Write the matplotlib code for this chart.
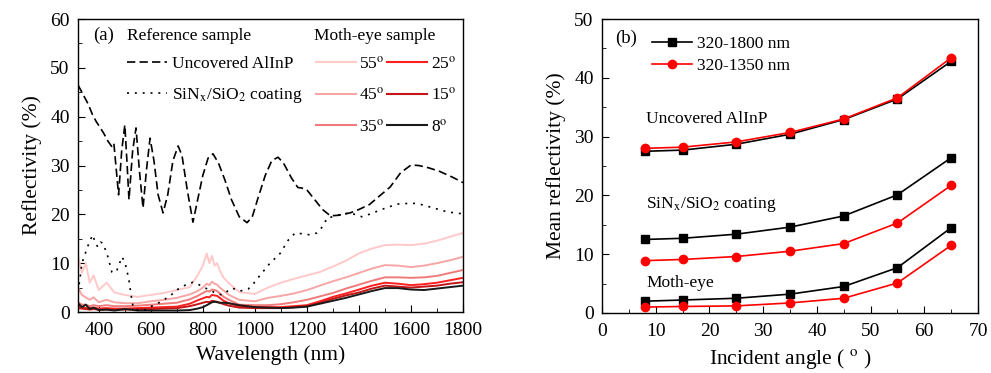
import matplotlib
matplotlib.use("Agg")
import matplotlib.pyplot as plt
from matplotlib.lines import Line2D
from matplotlib.ticker import MultipleLocator

plt.rcParams['font.family'] = ['Liberation Serif', 'DejaVu Serif']
plt.rcParams['mathtext.fontset'] = 'stix'

# ---- panel (a): reflectivity spectra ----
uncovered_wl = [320, 330, 345, 360, 375, 390, 405, 420, 435, 451, 458, 476, 488, 500, 508, 516,
                530, 543, 556, 570, 583, 597, 612, 628, 647, 665, 685, 705, 720, 740, 762, 780,
                800, 820, 839, 860, 885, 910, 940, 970, 990, 1010, 1040, 1065, 1089, 1110, 1140,
                1165, 1180, 1200, 1230, 1260, 1290, 1320, 1366, 1400, 1440, 1480, 1520, 1560,
                1600, 1630, 1670, 1710, 1760, 1800]
uncovered_r = [46.5, 45.5, 44, 42.5, 40.5, 39, 37.8, 36.5, 35, 33.8, 34.5, 24, 33, 38.3, 31, 23,
               33, 37.7, 29, 21.3, 29, 35.6, 31, 24, 20.3, 24, 31, 34, 32, 25, 18.4, 23,
               28, 31.5, 32.4, 30.5, 27, 23, 19.5, 18.3, 19.5, 23, 28, 31, 31.7, 30.5, 27.5,
               25.5, 25.4, 25, 23, 21, 19.7, 19.8, 20.3, 21, 22, 23.8, 25.6, 28.5,
               30.1, 30, 29.5, 28.8, 27.6, 26.5]

coating_wl = [320, 328, 335, 345, 355, 365, 377, 387, 397, 407, 416, 425, 435, 450, 460, 470,
              480, 489, 500, 508, 516, 524, 532, 545, 570, 590, 604, 635, 674, 705, 739, 762,
              785, 801, 828, 850, 874, 895, 912, 943, 974, 990, 1012, 1035, 1058, 1097, 1128,
              1155, 1185, 1212, 1239, 1262, 1278, 1300, 1330, 1366, 1412, 1450, 1482, 1547,
              1605, 1640, 1674, 1740, 1800]
coating_r = [4.1, 7, 10, 11.5, 13.1, 14.5, 15.8, 14, 13.3, 14.3, 14.1, 12.8, 11.3, 8.2, 8, 8.6,
             10, 11.3, 10.2, 8.5, 6.5, 3.5, 1.0, 0.4, 0.3, 0.7, 1.2, 2, 3.3, 4.7, 5.7, 6.1,
             5.6, 5.1, 4.5, 3.8, 3.5, 4.3, 4.9, 4.3, 4.7, 5.5, 7, 8.5, 10, 12, 14.7,
             16.2, 16, 15.8, 16.2, 17.6, 19.3, 19.5, 20, 20.3, 19.5, 20.2, 20.9, 22.1,
             22.3, 22, 21.5, 20.5, 20.1]

moth_wl = [320, 335, 350, 365, 380, 400, 430, 460, 500, 550, 600, 650, 700, 750, 780, 800,
           815, 825, 835, 845, 855, 865, 880, 900, 940, 1000, 1050, 1100, 1150, 1200, 1250,
           1300, 1350, 1400, 1450, 1500, 1550, 1600, 1650, 1700, 1750, 1800]
moth_55 = [11.5, 8, 10, 6, 7.5, 4.5, 6, 4, 3.5, 3.1, 3.5, 3.9, 4.5, 5.1, 7.5, 9.5,
           12, 10, 11.5, 9.5, 10, 8.5, 7, 5.9, 4.1, 3.7, 5, 6, 6.8, 7.5, 8.2,
           9.3, 10.5, 12, 13, 13.7, 13.8, 13.7, 14, 14.6, 15.4, 16.2]
moth_45 = [5, 3.5, 3, 2.5, 3, 2, 2.5, 2, 1.8, 1.8, 2.2, 2.5, 2.9, 3.6, 4.3, 5,
           5.8, 5.5, 6.2, 5.8, 5.6, 5, 4.4, 3.5, 2.5, 2.2, 2.9, 3.3, 3.8, 4.5, 5.4,
           6.3, 7.1, 8, 8.9, 9.6, 9.5, 9.2, 9.5, 10, 10.6, 11.3]
moth_35 = [2, 1.5, 1.5, 1.2, 1.4, 1.2, 1.4, 1.2, 1.2, 1.3, 1.5, 1.7, 1.9, 2.6, 3.3, 3.9,
           4.3, 4.2, 4.6, 4.5, 4.3, 3.8, 3.1, 2.5, 1.5, 1.4, 1.4, 1.6, 2.0, 2.5, 3.2,
           3.9, 4.8, 5.6, 6.4, 7.1, 7.1, 7.0, 7.1, 7.4, 8.0, 8.6]
moth_25 = [1.2, 1.0, 0.8, 0.8, 0.9, 0.7, 0.8, 0.7, 0.7, 0.8, 0.9, 1.0, 1.1, 1.7, 2.4, 2.8,
           3.1, 3.0, 3.5, 3.4, 3.3, 2.9, 2.3, 1.8, 1.2, 1.0, 1.0, 1.0, 1.2, 1.4, 2.2,
           3.1, 3.8, 4.6, 5.4, 6.0, 5.8, 5.5, 5.7, 6.0, 6.5, 7.0]
moth_15 = [0.8, 0.7, 0.6, 0.5, 0.6, 0.5, 0.5, 0.5, 0.5, 0.6, 0.6, 0.7, 0.8, 1.2, 1.6, 1.9,
           2.1, 2.0, 2.3, 2.2, 2.1, 1.9, 1.6, 1.3, 0.9, 0.8, 0.8, 0.8, 1.0, 1.2, 1.9,
           2.7, 3.4, 4.0, 4.8, 5.4, 5.2, 5.0, 5.2, 5.4, 5.8, 6.1]
moth_8 = [1.8, 1.0, 1.5, 0.6, 0.9, 0.4, 0.5, 0.3, 0.6, 0.3, 0.3, 0.3, 0.3, 0.4, 0.7, 1.0,
          1.4, 1.7, 2.0, 2.1, 2.0, 1.9, 1.9, 1.8, 1.4, 1.0, 0.9, 0.8, 0.9, 1.1, 1.7,
          2.3, 2.9, 3.6, 4.3, 4.9, 4.9, 4.6, 4.5, 4.8, 5.1, 5.4]
moth_labels = ['55', '45', '35', '25', '15', '8']

# ---- panel (b): mean reflectivity vs angle ----
angles = [8, 15, 25, 35, 45, 55, 65]
uncovered_1800 = [27.5, 27.7, 28.7, 30.4, 32.9, 36.4, 42.8]
uncovered_1350 = [28.0, 28.2, 29.1, 30.7, 33.0, 36.6, 43.4]
coating_1800 = [12.5, 12.7, 13.4, 14.6, 16.5, 20.1, 26.4]
coating_1350 = [8.9, 9.1, 9.6, 10.5, 11.8, 15.3, 21.7]
moth_1800 = [2.0, 2.2, 2.5, 3.2, 4.5, 7.7, 14.5]
moth_1350 = [1.0, 1.1, 1.2, 1.7, 2.5, 5.1, 11.5]

TICK_FS = 14
LABEL_FS = 15.5
LEG_FS = 12.5

fig = plt.figure(figsize=(9.91, 3.73), dpi=100)
ax_a = fig.add_axes([0.0787, 0.1635, 0.3885, 0.7855])
ax_b = fig.add_axes([0.6075, 0.161, 0.3794, 0.788])

# moth-eye curves, lightest first
moth_series = [moth_55, moth_45, moth_35, moth_25, moth_15, moth_8]
moth_colors = ['#ffc9c9', '#f7a5a5', '#f07b7b', '#ff1f1f', '#c41616', '#1a1a1a']
moth_handles = []
for vals, col, lab in zip(moth_series, moth_colors, moth_labels):
    ax_a.plot(moth_wl, vals, color=col, lw=1.4)
    moth_handles.append(Line2D([], [], color=col, lw=1.5, label=lab + r'$^\mathrm{o}$'))

ax_a.plot(uncovered_wl, uncovered_r, color='black', lw=1.2, dashes=(5, 2.5))
ax_a.plot(coating_wl, coating_r, color='black', lw=1.2, dashes=(1.2, 3.5))

ax_a.set_xlim(320, 1800)
ax_a.set_ylim(0, 60)
ax_a.xaxis.set_minor_locator(MultipleLocator(100))
ax_a.yaxis.set_major_locator(MultipleLocator(10))
ax_a.yaxis.set_minor_locator(MultipleLocator(5))
ax_a.set_xticks(range(400, 1801, 200))
ax_a.set_xlabel('Wavelength (nm)', fontsize=LABEL_FS, labelpad=5)
ax_a.set_ylabel('Reflectivity (%)', fontsize=LABEL_FS, labelpad=6)

ax_a.text(0.04, 0.945, '(a)', transform=ax_a.transAxes, fontsize=LEG_FS + 1, va='center')
ax_a.text(0.127, 0.942, 'Reference sample', transform=ax_a.transAxes, fontsize=LEG_FS, va='center')
ax_a.text(0.613, 0.942, 'Moth-eye sample', transform=ax_a.transAxes, fontsize=LEG_FS, va='center')

ref_handles = [Line2D([], [], color='black', lw=1.2, dashes=(5, 2.5), label='Uncovered AlInP'),
               Line2D([], [], color='black', lw=1.2, dashes=(1.2, 3.5),
                      label=r'SiN$_\mathrm{x}$/SiO$_\mathrm{2}$ coating')]
leg1 = ax_a.legend(handles=ref_handles, loc='upper left',
                   bbox_to_anchor=(0.095, 0.917), frameon=False, fontsize=LEG_FS,
                   handlelength=2.3, handletextpad=0.3,
                   labelspacing=0.85, borderpad=0.2)
ax_a.add_artist(leg1)
ax_a.legend(handles=moth_handles, loc='upper left',
            bbox_to_anchor=(0.586, 0.917), frameon=False, fontsize=LEG_FS,
            ncol=2, handlelength=2.3, handletextpad=0.2,
            labelspacing=0.85, columnspacing=0.15, borderpad=0.2)

# panel (b)
ax_b.plot(angles, uncovered_1800, color='black', marker='s', ms=5.5, lw=1.2)
ax_b.plot(angles, uncovered_1350, color='red', marker='o', ms=6, lw=1.2)
ax_b.plot(angles, coating_1800, color='black', marker='s', ms=5.5, lw=1.2)
ax_b.plot(angles, coating_1350, color='red', marker='o', ms=6, lw=1.2)
ax_b.plot(angles, moth_1800, color='black', marker='s', ms=5.5, lw=1.2, label='320-1800 nm')
ax_b.plot(angles, moth_1350, color='red', marker='o', ms=6, lw=1.2, label='320-1350 nm')

ax_b.set_xlim(0, 70)
ax_b.set_ylim(0, 50)
ax_b.xaxis.set_major_locator(MultipleLocator(10))
ax_b.xaxis.set_minor_locator(MultipleLocator(5))
ax_b.yaxis.set_major_locator(MultipleLocator(10))
ax_b.yaxis.set_minor_locator(MultipleLocator(5))
ax_b.set_xlabel(r'Incident angle ( $^\mathrm{o}$ )', fontsize=LABEL_FS, labelpad=5)
ax_b.set_ylabel('Mean reflectivity (%)', fontsize=LABEL_FS, labelpad=6)

ax_b.text(0.035, 0.935, '(b)', transform=ax_b.transAxes, fontsize=LEG_FS + 1, va='center')
ax_b.legend(loc='upper left', bbox_to_anchor=(0.1, 0.985), frameon=False, fontsize=LEG_FS,
            handlelength=2.3, handletextpad=0.3, labelspacing=0.35, borderpad=0.2)

ax_b.text(8.2, 33, 'Uncovered AlInP', fontsize=LEG_FS, va='center')
ax_b.text(8.2, 18.4, r'SiN$_\mathrm{x}$/SiO$_\mathrm{2}$ coating', fontsize=LEG_FS, va='center')
ax_b.text(8.2, 5.1, 'Moth-eye', fontsize=LEG_FS, va='center')

for ax in (ax_a, ax_b):
    ax.tick_params(which='both', direction='in', top=False, right=False, labelsize=TICK_FS)
    ax.tick_params(which='major', length=5)
    ax.tick_params(which='minor', length=3)
    ax.tick_params(axis='x', pad=7)
    ax.tick_params(axis='y', pad=6)
    for s in ax.spines.values():
        s.set_linewidth(1.0)

plt.savefig('out.png', dpi=100)
